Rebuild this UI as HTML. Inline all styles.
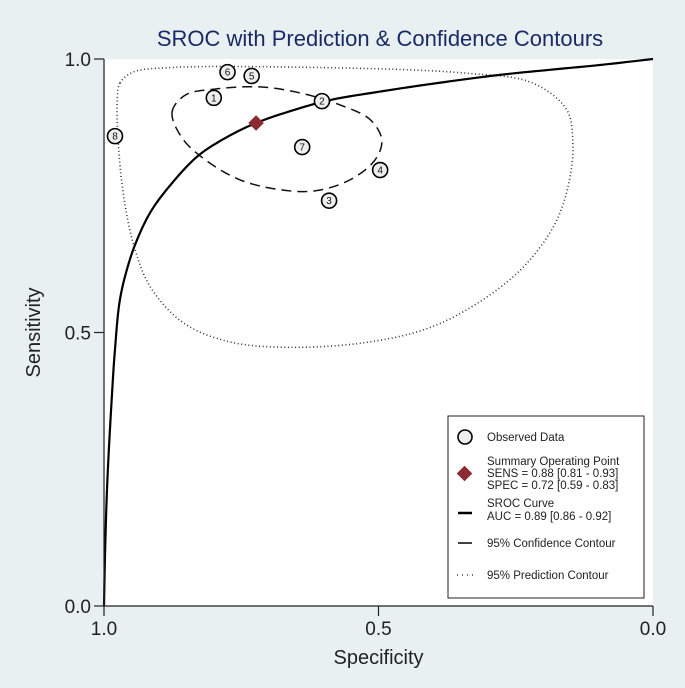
<!DOCTYPE html>
<html><head><meta charset="utf-8"><style>
html,body{margin:0;padding:0;background:#e8f0f2;}
svg{display:block;font-family:"Liberation Sans",Arial,sans-serif;}
</style></head><body>
<svg id="chart" width="685" height="688" viewBox="0 0 685 688">
<rect x="0" y="0" width="685" height="688" fill="#e8f0f2"/>
<text x="380" y="46" text-anchor="middle" font-size="22" fill="#1a2a66">SROC with Prediction &amp; Confidence Contours</text>
<rect x="105" y="59" width="548" height="547" fill="#fff"/>
<g id="marks"></g>
<g id="axes"></g>
<g>
<rect x="448" y="416" width="196" height="182" fill="#fff" stroke="#222" stroke-width="1"/>
<g>
<circle cx="465" cy="437" r="7" fill="#eee" stroke="#000" stroke-width="1.6"/>
<text x="487" y="441" font-size="11.5" fill="#222">Observed Data</text></g>
<g>
<rect x="459" y="468" width="11" height="11" fill="#8b2a32" transform="rotate(45 464.5 473.5)"/>
<text x="487" y="465" font-size="11.5" fill="#222">Summary Operating Point</text>
<text x="487" y="477" font-size="11.5" fill="#222">SENS = 0.88 [0.81 - 0.93]</text>
<text x="487" y="489" font-size="11.5" fill="#222">SPEC = 0.72 [0.59 - 0.83]</text></g>
<g>
<line x1="458" y1="513" x2="472" y2="513" stroke="#000" stroke-width="2.5"/>
<text x="487" y="507" font-size="11.5" fill="#222">SROC Curve</text>
<text x="487" y="520" font-size="11.5" fill="#222">AUC = 0.89 [0.86 - 0.92]</text></g>
<g>
<line x1="458" y1="543" x2="472" y2="543" stroke="#000" stroke-width="1.5"/>
<text x="487" y="547" font-size="11.5" fill="#222">95% Confidence Contour</text></g>
<g>
<line x1="457" y1="575" x2="473" y2="575" stroke="#444" stroke-width="1.5" stroke-dasharray="1 4"/>
<text x="487" y="579" font-size="11.5" fill="#222">95% Prediction Contour</text></g>
</g>
</svg>
<script>
const studyIds = ["1","2","3","4","5","6","7","8"];
const studySpec = [0.80, 0.603, 0.590, 0.497, 0.731, 0.775, 0.639, 0.980];
const studySens = [0.929, 0.923, 0.741, 0.797, 0.969, 0.976, 0.839, 0.859];
const summarySpec = [0.723];
const summarySens = [0.883];
const srocSpec = [1, 0.998, 0.994, 0.986, 0.980, 0.971, 0.956, 0.940, 0.916, 0.886, 0.831, 0.78, 0.723, 0.65, 0.588, 0.5, 0.4, 0.279, 0.18, 0.097, 0];
const srocSens = [0, 0.1, 0.226, 0.378, 0.469, 0.560, 0.623, 0.669, 0.719, 0.761, 0.821, 0.855, 0.883, 0.908, 0.925, 0.940, 0.955, 0.971, 0.981, 0.989, 1];
const confSpec = [0.876, 0.852, 0.798, 0.716, 0.643, 0.570, 0.515, 0.494, 0.506, 0.552, 0.616, 0.679, 0.752, 0.816, 0.858];
const confSens = [0.903, 0.934, 0.945, 0.949, 0.938, 0.916, 0.889, 0.852, 0.816, 0.779, 0.759, 0.761, 0.779, 0.816, 0.856];
const predSpec = [0.971, 0.947, 0.885, 0.643, 0.339, 0.219, 0.157, 0.146, 0.151, 0.175, 0.224, 0.291, 0.401, 0.521, 0.674, 0.776, 0.856, 0.916, 0.947, 0.965, 0.974, 0.976];
const predSens = [0.956, 0.976, 0.984, 0.985, 0.974, 0.956, 0.907, 0.847, 0.785, 0.706, 0.633, 0.573, 0.511, 0.482, 0.473, 0.484, 0.518, 0.584, 0.664, 0.755, 0.847, 0.920];
const xTicks = [1.0, 0.5, 0.0];
const xTickLabels = ["1.0", "0.5", "0.0"];
const yTicks = [0.0, 0.5, 1.0];
const yTickLabels = ["0.0", "0.5", "1.0"];

const NS = "http://www.w3.org/2000/svg";
const X0 = 104, X1 = 653, Y0 = 606, Y1 = 59;
function xs(spec){ return X0 + (1 - spec) * (X1 - X0); }
function ys(sens){ return Y0 - sens * (Y0 - Y1); }
function mk(tag, attrs, parent){ const e = document.createElementNS(NS, tag); for (const k in attrs) e.setAttribute(k, attrs[k]); parent.appendChild(e); return e; }
// centripetal Catmull-Rom, sampled
function smoothPath(pts, closed){
  const n = pts.length;
  const get = i => closed ? pts[(i + n) % n] : (i < 0 ? [2*pts[0][0]-pts[1][0], 2*pts[0][1]-pts[1][1]] : i > n-1 ? [2*pts[n-1][0]-pts[n-2][0], 2*pts[n-1][1]-pts[n-2][1]] : pts[i]);
  const last = closed ? n : n - 1;
  let d = "M" + pts[0][0].toFixed(2) + "," + pts[0][1].toFixed(2);
  const tj = (ti, a, b) => ti + Math.pow(Math.hypot(b[0]-a[0], b[1]-a[1]), 0.5) + 1e-6;
  for (let i = 0; i < last; i++){
    const P0 = get(i - 1), P1 = get(i), P2 = get(i + 1), P3 = get(i + 2);
    const t0 = 0, t1 = tj(t0, P0, P1), t2 = tj(t1, P1, P2), t3 = tj(t2, P2, P3);
    const N = 12;
    for (let k = 1; k <= N; k++){
      const t = t1 + (t2 - t1) * k / N;
      const L = (A, B, ta, tb) => [ (tb-t)/(tb-ta)*A[0] + (t-ta)/(tb-ta)*B[0], (tb-t)/(tb-ta)*A[1] + (t-ta)/(tb-ta)*B[1] ];
      const A1 = L(P0,P1,t0,t1), A2 = L(P1,P2,t1,t2), A3 = L(P2,P3,t2,t3);
      const B1 = L(A1,A2,t0,t2), B2 = L(A2,A3,t1,t3);
      const C = L(B1,B2,t1,t2);
      d += " L" + C[0].toFixed(2) + "," + C[1].toFixed(2);
    }
  }
  return d + (closed ? " Z" : "");
}
const marks = document.getElementById("marks");
const axes = document.getElementById("axes");

const pred = mk("path", {d: smoothPath(predSpec.map((s, i) => [xs(s), ys(predSens[i])]), true), fill: "none", stroke: "#333", "stroke-width": 1.6, "stroke-dasharray": "1 2.6"}, marks);



const conf = mk("path", {d: smoothPath(confSpec.map((s, i) => [xs(s), ys(confSens[i])]), true), fill: "none", stroke: "#111", "stroke-width": 1.5, "stroke-dasharray": "10 6"}, marks);



const sroc = mk("path", {d: smoothPath(srocSpec.map((s, i) => [xs(s), ys(srocSens[i])]), false), fill: "none", stroke: "#000", "stroke-width": 2.2, "stroke-linejoin": "round"}, marks);



studyIds.forEach((id, i) => {
  const g = mk("g", {}, marks);
  
  
  mk("circle", {cx: xs(studySpec[i]), cy: ys(studySens[i]), r: 7.5, fill: "#eee", stroke: "#000", "stroke-width": 1.6}, g);
  const t = mk("text", {x: xs(studySpec[i]), y: ys(studySens[i]) + 3.5, "text-anchor": "middle", "font-size": 10, fill: "#111"}, g);
  t.textContent = id;
});

summarySpec.forEach((s, i) => {
  const cx = xs(s), cy = ys(summarySens[i]);
  const d = mk("rect", {x: cx - 5.5, y: cy - 5.5, width: 11, height: 11, fill: "#8b2a32", transform: "rotate(45 " + cx + " " + cy + ")"}, marks);
  
  
});

const xa = mk("line", {x1: X0, y1: Y0, x2: X1, y2: Y0, stroke: "#222", "stroke-width": 1.2}, axes);


const ya = mk("line", {x1: X0, y1: Y0, x2: X0, y2: Y1, stroke: "#222", "stroke-width": 1.2}, axes);


xTicks.forEach((v, i) => {
  const tk = mk("line", {x1: xs(v), y1: Y0, x2: xs(v), y2: Y0 + 10, stroke: "#222", "stroke-width": 1.2}, axes);
  
  
  const t = mk("text", {x: xs(v), y: Y0 + 29, "text-anchor": "middle", "font-size": 19, fill: "#222"}, axes);
  t.textContent = xTickLabels[i];
  
  
});
yTicks.forEach((v, i) => {
  const tk = mk("line", {x1: X0 - 10, y1: ys(v), x2: X0, y2: ys(v), stroke: "#222", "stroke-width": 1.2}, axes);
  
  
  const t = mk("text", {x: X0 - 13, y: ys(v) + 7, "text-anchor": "end", "font-size": 19, fill: "#222"}, axes);
  t.textContent = yTickLabels[i];
  
  
});
const xt = mk("text", {x: (X0 + X1) / 2, y: 664, "text-anchor": "middle", "font-size": 20, fill: "#222"}, axes);
xt.textContent = "Specificity";


const yt = mk("text", {x: 40, y: (Y0 + Y1) / 2, "text-anchor": "middle", "font-size": 20, fill: "#222", transform: "rotate(-90 40 " + (Y0 + Y1) / 2 + ")"}, axes);
yt.textContent = "Sensitivity";


</script>
</body></html>
